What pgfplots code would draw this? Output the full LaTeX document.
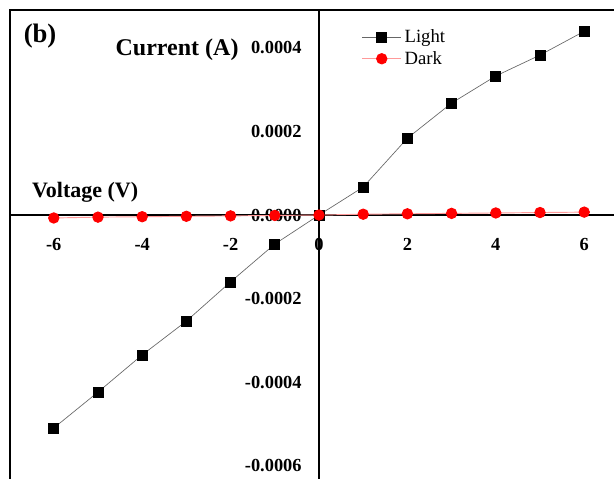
\documentclass[border=0pt]{standalone}
\usepackage{fontspec}
\setmainfont{Liberation Serif}
\usepackage{pgfplots}
\pgfplotsset{compat=1.18}
\begin{document}
\begin{tikzpicture}
\begin{axis}[
  scale only axis,
  width=453pt, height=351.75pt,
  xmin=-6.99, xmax=6.674,
  ymin=-0.000632, ymax=0.000491,
  axis lines=middle,
  axis line style={line width=1.1pt, -},
  hide obscured x ticks=false,
  hide obscured y ticks=false,
  xtick={-6,-4,-2,0,2,4,6},
  ytick={-0.0006,-0.0004,-0.0002,0,0.0002,0.0004},
  scaled y ticks=false,
  major tick length=0pt,
  /pgf/number format/assume math mode=true,
  yticklabel={\pgfmathprintnumber[fixed,fixed zerofill,precision=4]{\tick}},
  ticklabel style={font=\bfseries\fontsize{13.8}{15}\selectfont},
  xticklabel style={yshift=-14pt, anchor=north},
  yticklabel style={anchor=east, xshift=-9.5pt},
  clip=false,
  legend style={draw=none, fill=none, at={(rel axis cs:0.575,0.97)}, anchor=north west,
    font=\fontsize{14}{16}\selectfont, row sep=1pt},
  legend cell align=left,
  legend image code/.code={\draw[mark repeat=2,mark phase=2] plot coordinates {(0cm,0cm) (0.52cm,0cm) (1.04cm,0cm)};},
]
\addplot[gray!80!black, line width=0.5pt, mark=square*, mark size=3.75pt, mark options={solid, fill=black, draw=black}]
coordinates {(-6,-0.000510) (-5,-0.000424) (-4,-0.000335) (-3,-0.000254) (-2,-0.000160) (-1,-0.0000695) (0,0) (1,0.000067) (2,0.000184) (3,0.000268) (4,0.000333) (5,0.000383) (6,0.000440)};
\addlegendentry{Light}
\addplot[red!40, line width=0.7pt, mark=*, mark size=3.9pt, mark options={solid, fill=red, draw=red}]
coordinates {(-6,-0.000007) (-5,-0.000005) (-4,-0.000004) (-3,-0.000003) (-2,-0.000002) (-1,-0.000001) (0,0) (1,0.000002) (2,0.000003) (3,0.000004) (4,0.000005) (5,0.000006) (6,0.000007)};
\addlegendentry{Dark}
\draw[line width=1.1pt] (rel axis cs:0,0) -- (rel axis cs:0,1) -- (rel axis cs:1,1);
\node[font=\bfseries\fontsize{18}{20}\selectfont] at (axis cs:-3.21,0.000395) {Current (A)};
\node[font=\bfseries\fontsize{16.5}{18}\selectfont] at (axis cs:-5.29,0.000055) {Voltage (V)};
\node[font=\bfseries\fontsize{20}{22}\selectfont] at (axis cs:-6.31,0.000429) {(b)};
\end{axis}
\pgfresetboundingbox
\path ([xshift=-7.5pt]current axis.south west) rectangle ([yshift=7.5pt]current axis.north east);
\end{tikzpicture}
\end{document}
